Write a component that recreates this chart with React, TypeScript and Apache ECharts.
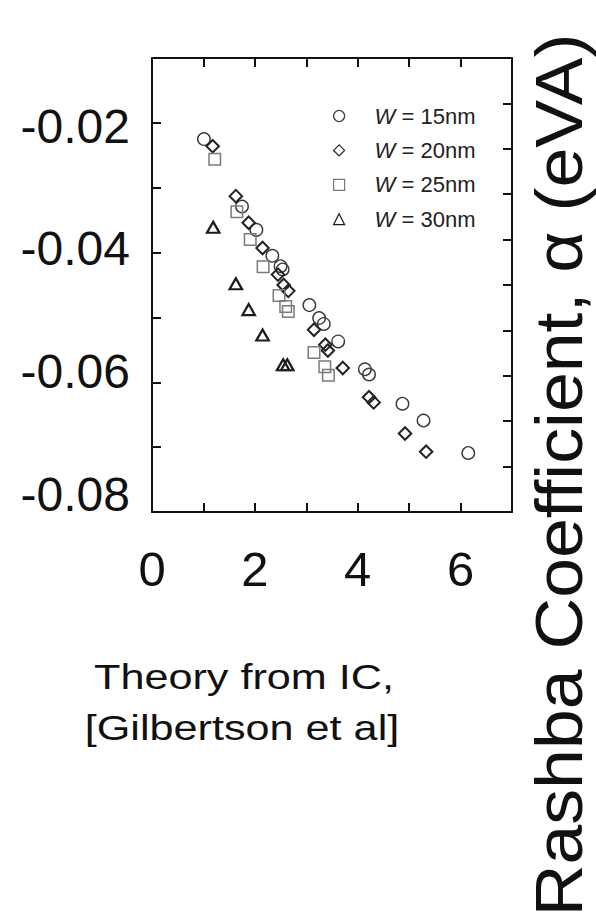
import React, { useEffect, useRef } from "react";
import * as echarts from "echarts";

// ---- data ----
const seriesNames = ["W = 15nm", "W = 20nm", "W = 25nm", "W = 30nm"];

const w15: [number, number][] = [
  [1.01, -0.0225], [1.75, -0.0329], [2.03, -0.0365], [2.34, -0.0405], [2.5, -0.0421],
  [2.54, -0.0426], [3.06, -0.0481], [3.25, -0.0501], [3.34, -0.051], [3.62, -0.0537],
  [4.14, -0.058], [4.22, -0.0588], [4.87, -0.0633], [5.28, -0.0659], [6.15, -0.0709],
];
const w20: [number, number][] = [
  [1.18, -0.0236], [1.63, -0.0313], [1.88, -0.0354], [2.15, -0.0393], [2.45, -0.0434],
  [2.56, -0.045], [2.65, -0.0459], [3.15, -0.0519], [3.37, -0.0542], [3.42, -0.0551],
  [3.71, -0.0578], [4.22, -0.0623], [4.31, -0.0631], [4.92, -0.0679], [5.33, -0.0707],
];
const w25: [number, number][] = [
  [1.22, -0.0256], [1.65, -0.0337], [1.91, -0.038], [2.16, -0.0422], [2.47, -0.0466],
  [2.6, -0.0483], [2.65, -0.0491], [3.15, -0.0554], [3.36, -0.0576], [3.43, -0.0589],
];
const w30: [number, number][] = [
  [1.19, -0.0361], [1.63, -0.0448], [1.88, -0.0488], [2.15, -0.0527], [2.55, -0.0573], [2.63, -0.0573],
];

const xTickLabels = [0, 2, 4, 6];
const yTickLabels = [-0.02, -0.04, -0.06, -0.08];
const titleLines = ["Theory from IC,", "[Gilbertson et al]"];
const yTitle = "Rashba Coefficient, \u03b1 (eVA)";

const FONT = "'Liberation Sans', Arial, Helvetica, sans-serif";

export default function App() {
  const ref = useRef<HTMLDivElement>(null);

  useEffect(() => {
    if (!ref.current) return;
    const chart = echarts.init(ref.current, undefined, { renderer: "svg" });

    const frameLine = { show: true, onZero: false, lineStyle: { color: "#111", width: 2 } };
    const inTick = (len: number) => ({ show: true, inside: true, length: len, lineStyle: { color: "#111", width: 2 } });

    const mk = (
      name: string,
      data: [number, number][],
      symbol: string,
      size: number | number[],
      color: string,
      bw: number
    ) => ({
      type: "scatter",
      name,
      data,
      xAxisIndex: 0,
      yAxisIndex: 0,
      symbol,
      symbolSize: size,
      itemStyle: { color: "rgba(0,0,0,0)", borderColor: color, borderWidth: bw, opacity: 1 },
      emphasis: { disabled: true },
    });

    chart.setOption({
      animation: false,
      backgroundColor: "#fff",
      grid: { left: 152, top: 58, width: 360, height: 454, containLabel: false },
      legend: {
        show: true,
        orient: "vertical",
        left: 333,
        top: 105,
        padding: 0,
        itemWidth: 11,
        itemHeight: 11,
        itemGap: 12.4,
        data: seriesNames,
        itemStyle: { borderWidth: 1.2 },
        formatter: (n: string) => n.replace("W", "{i|W}"),
        textStyle: {
          fontFamily: FONT,
          fontSize: 22,
          lineHeight: 22,
          color: "#222",
          padding: [0, 0, 0, 25],
          rich: { i: { fontFamily: FONT, fontSize: 22, fontStyle: "italic", color: "#222", lineHeight: 22 } },
        },
      },
      xAxis: [
        {
          type: "value",
          position: "bottom",
          min: 0,
          max: 7,
          interval: 1,
          axisLine: frameLine,
          axisTick: inTick(9),
          splitLine: { show: false },
          axisLabel: {
            show: true,
            margin: 32,
            fontFamily: FONT,
            fontSize: 49,
            color: "#111",
            formatter: (v: number) => (xTickLabels.indexOf(v) >= 0 ? String(v) : ""),
          },
        },
        {
          type: "value",
          position: "top",
          min: 0,
          max: 7,
          interval: 1,
          axisLine: frameLine,
          axisTick: inTick(9),
          splitLine: { show: false },
          axisLabel: { show: false },
        },
      ],
      yAxis: [
        {
          type: "value",
          position: "left",
          min: -0.08,
          max: -0.01,
          interval: 0.01,
          axisLine: frameLine,
          axisTick: inTick(9),
          splitLine: { show: false },
          axisLabel: { show: false },
        },
        {
          type: "value",
          position: "right",
          min: 0,
          max: 10,
          interval: 1,
          axisLine: frameLine,
          axisTick: inTick(9),
          splitLine: { show: false },
          axisLabel: { show: false },
        },
        {
          type: "value",
          position: "left",
          min: -0.0829,
          max: -0.0089,
          axisLine: { show: false },
          axisTick: { show: false },
          splitLine: { show: false },
          axisLabel: {
            show: true,
            margin: 22,
            fontFamily: FONT,
            fontSize: 48,
            color: "#111",
            customValues: yTickLabels,
            formatter: (v: number) => v.toFixed(2),
          },
        },
      ],
      series: [
        mk(seriesNames[0], w15, "circle", 12.5, "#3a3a3a", 1.4),
        mk(seriesNames[1], w20, "diamond", 12.5, "#222", 2),
        mk(seriesNames[2], w25, "rect", 11.5, "#7a7a7a", 1.5),
        mk(seriesNames[3], w30, "triangle", [12.5, 11], "#1c1c1c", 2.2),
      ],
      graphic: [
        {
          type: "text",
          x: 244,
          y: 676,
          scaleX: 1.2,
          silent: true,
          style: { text: titleLines[0], font: `36px ${FONT}`, fill: "#111", align: "center", verticalAlign: "middle" },
        },
        {
          type: "text",
          x: 242,
          y: 727,
          scaleX: 1.2,
          silent: true,
          style: { text: titleLines[1], font: `36px ${FONT}`, fill: "#111", align: "center", verticalAlign: "middle" },
        },
        {
          type: "text",
          x: 559,
          y: 475,
          rotation: Math.PI / 2,
          scaleX: 1.085,
          silent: true,
          style: { text: yTitle, font: `66px ${FONT}`, fill: "#111", align: "center", verticalAlign: "middle" },
        },
      ],
    });

    return () => chart.dispose();
  }, []);

  return (
    <div
      ref={ref}
      style={{ position: "fixed", left: 0, top: 0, width: 596, height: 921, background: "#fff" }}
    />
  );
}
